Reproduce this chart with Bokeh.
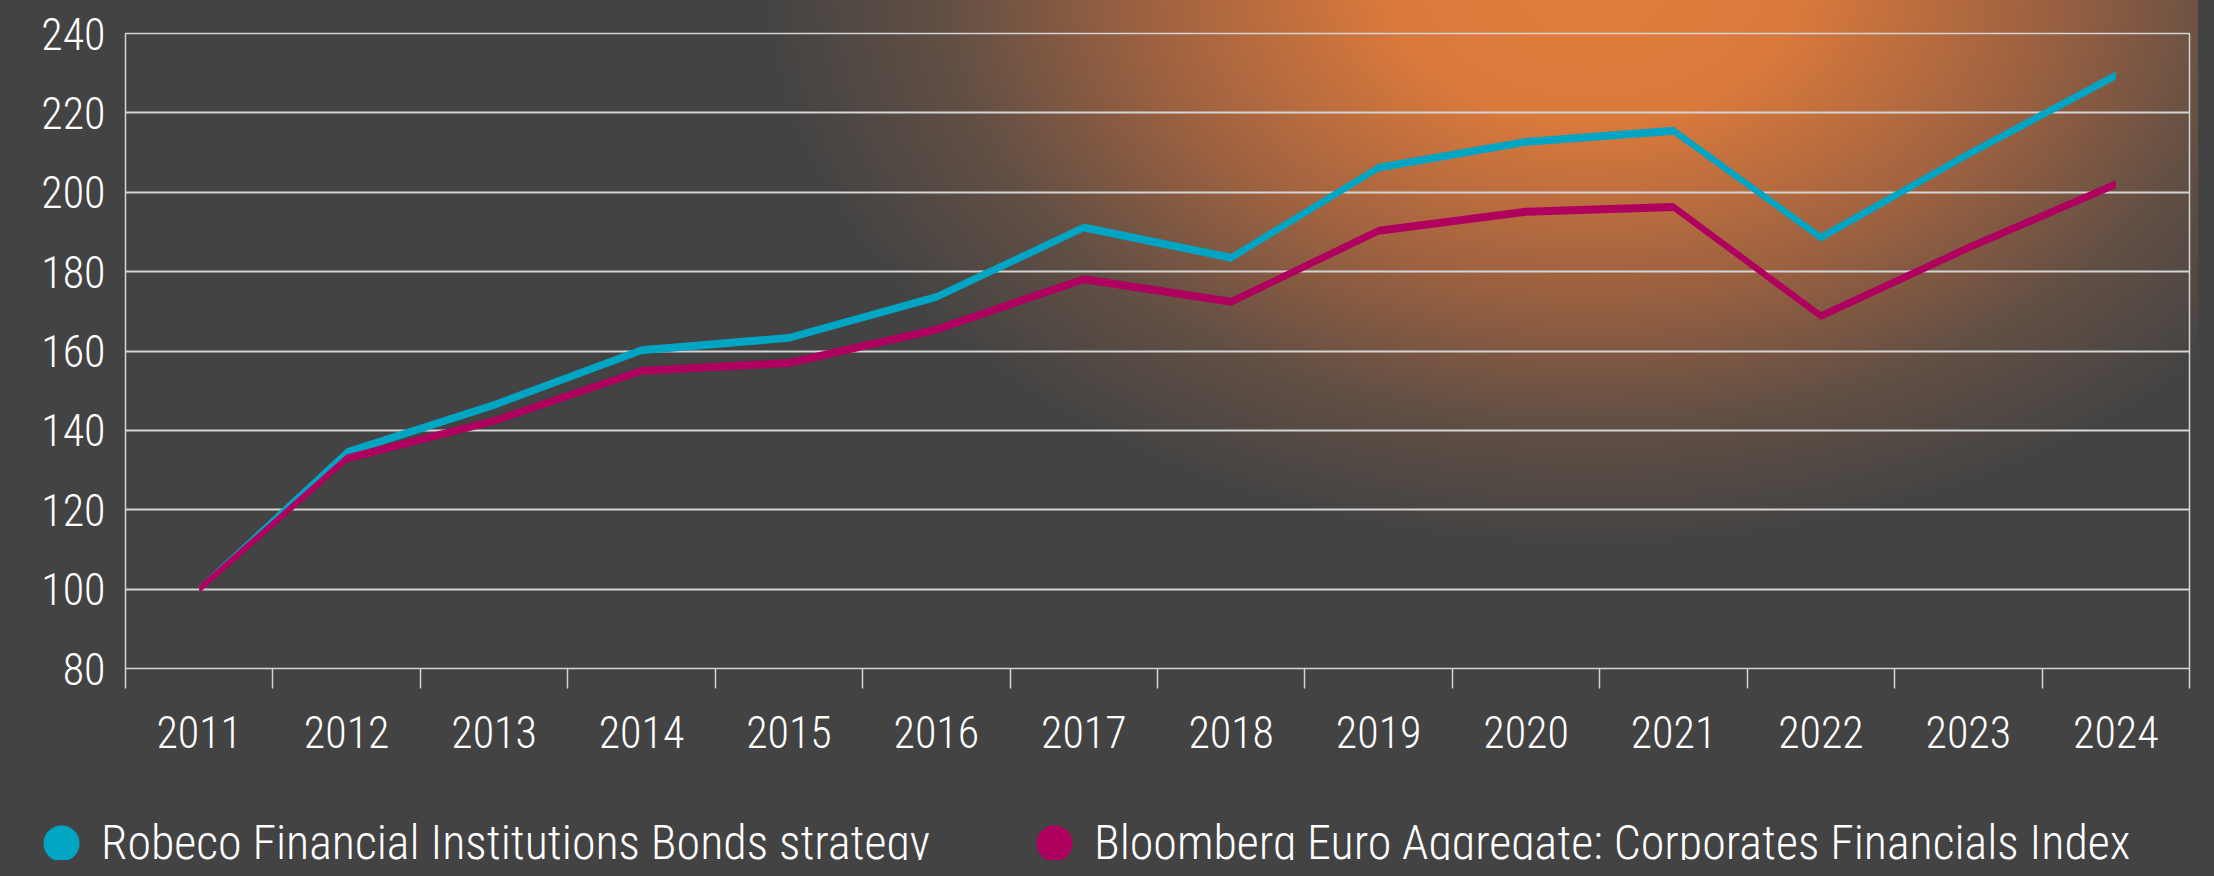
from bokeh.plotting import figure
from bokeh.layouts import column
from bokeh.models import (Range1d, FixedTicker, Legend, LegendItem,
                          GlobalInlineStyleSheet)
from bokeh.embed import file_html
from bokeh.resources import INLINE

years = [2011, 2012, 2013, 2014, 2015, 2016, 2017, 2018, 2019, 2020, 2021, 2022, 2023, 2024]
robeco = [100, 134.5, 146.4, 160.2, 163.3, 173.6, 191.1, 183.5, 206.2, 212.7, 215.5, 188.6, 209.6, 229.4]
bloomberg = [100, 132.9, 142.4, 155.0, 157.0, 165.4, 178.1, 172.4, 190.3, 195.1, 196.3, 168.8, 186.0, 202.0]
y_ticks = [80, 100, 120, 140, 160, 180, 200, 220, 240]
labels = ["Robeco Financial Institutions Bonds strategy",
          "Bloomberg Euro Aggregate: Corporates Financials Index"]

BLUE = "#00a5c4"
PINK = "#b0005f"
BG = "#434343"
TXT = "#ffffff"
GRID = "#d4d4d4"
FONT = "Roboto Condensed Light"
TICK_FS = "44px"
LEG_FS = "48px"
HALF = 1.0   # half of the (vertical) stroke thickness, in index points

boundaries = [y - 0.5 for y in years] + [years[-1] + 0.5]

# ---------------- main chart ----------------
p = figure(width=2198, height=772, output_backend="svg", toolbar_location=None,
           x_range=Range1d(years[0] - 0.5, years[-1] + 0.5),
           y_range=Range1d(y_ticks[0], y_ticks[-1]),
           min_border_left=125, min_border_right=9, min_border_top=33,
           min_border_bottom=104)

p.background_fill_alpha = 0
p.border_fill_alpha = 0
p.outline_line_color = GRID
p.outline_line_width = 1.5
p.styles = {"background": "radial-gradient(ellipse 830px 565px at 1592px -18px, "
                          "rgb(226,126,58) 0%, rgb(217,121,60) 25%, rgb(162,99,64) 52%, "
                          "rgb(98,79,68) 78%, rgb(67,67,67) 100%), " + BG}
p.stylesheets = [GlobalInlineStyleSheet(css="body { background: %s; }" % BG)]

p.xgrid.grid_line_color = None
p.ygrid.grid_line_color = GRID
p.ygrid.grid_line_width = 2
p.ygrid.ticker = FixedTicker(ticks=y_ticks)

xa = p.xaxis[0]
xa.ticker = FixedTicker(ticks=years, minor_ticks=boundaries)
xa.axis_line_color = None
xa.major_tick_line_color = None
xa.major_tick_out = 20
xa.major_tick_in = 0
xa.minor_tick_line_color = GRID
xa.minor_tick_line_width = 1.5
xa.minor_tick_out = 20
xa.minor_tick_in = 0
xa.major_label_text_font = FONT
xa.major_label_text_font_size = TICK_FS
xa.major_label_text_color = TXT
xa.major_label_standoff = 27

ya = p.yaxis[0]
ya.ticker = FixedTicker(ticks=y_ticks)
ya.axis_line_color = None
ya.major_tick_line_color = None
ya.minor_tick_line_color = None
ya.major_tick_out = 0
ya.major_tick_in = 0
ya.major_label_text_font = FONT
ya.major_label_text_font_size = TICK_FS
ya.major_label_text_color = TXT
ya.major_label_standoff = 20

# series drawn as bands of constant vertical thickness, like the original
p.varea(x=years, y1=[v - HALF for v in robeco], y2=[v + HALF for v in robeco],
        fill_color=BLUE)
p.varea(x=years, y1=[v - HALF for v in bloomberg], y2=[v + HALF for v in bloomberg],
        fill_color=PINK)

# ---------------- legend strip ----------------
lg = figure(width=2198, height=88, output_backend="svg", toolbar_location=None,
            x_range=Range1d(0, 1), y_range=Range1d(0, 1), min_border=0)
lg.axis.visible = False
lg.grid.visible = False
lg.outline_line_color = None
lg.background_fill_color = BG
lg.border_fill_color = BG
if "frame_align" in lg.properties():
    lg.frame_align = False
    p.frame_align = False

# swatch renderers (their points lie outside the strip's range; only the legend shows them)
r1 = lg.scatter([-10], [-10], size=0, fill_color=BLUE, line_color=BLUE, line_width=16)
r2 = lg.scatter([-10], [-10], size=0, fill_color=PINK, line_color=PINK, line_width=16)

legend = Legend(items=[LegendItem(label=labels[0], renderers=[r1]),
                       LegendItem(label=labels[1], renderers=[r2])],
                orientation="horizontal", location=(36, -11),
                glyph_width=50, glyph_height=50, label_standoff=15,
                spacing=99, padding=0, margin=0,
                background_fill_alpha=0, border_line_color=None,
                label_text_font=FONT, label_text_font_size=LEG_FS,
                label_text_color=TXT)
lg.add_layout(legend, "center")

open("out.html", "w").write(file_html(column(p, lg, spacing=0), INLINE))
